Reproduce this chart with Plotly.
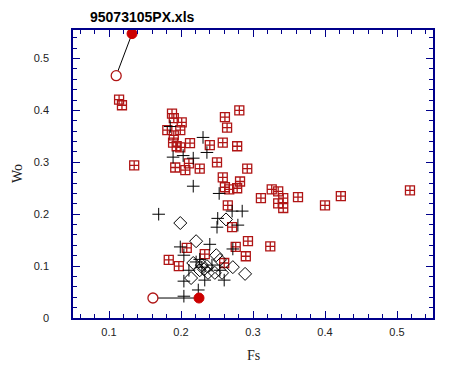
import plotly.graph_objects as go

# Red square-cross series
sq_x = [0.114, 0.118, 0.135, 0.1875, 0.190, 0.201, 0.181, 0.199, 0.190, 0.189, 0.194, 0.199,
        0.2125, 0.240, 0.258, 0.278, 0.261, 0.281, 0.264, 0.211, 0.250, 0.192, 0.206, 0.226,
        0.258, 0.292, 0.282, 0.261, 0.267, 0.278, 0.311, 0.326, 0.335, 0.342, 0.335, 0.342,
        0.3625, 0.400, 0.422, 0.518, 0.265, 0.271, 0.293, 0.276, 0.324, 0.290, 0.208, 0.233,
        0.183, 0.197, 0.260]
sq_y = [0.421, 0.410, 0.294, 0.394, 0.385, 0.377, 0.362, 0.362, 0.352, 0.338, 0.331, 0.329,
        0.337, 0.333, 0.338, 0.331, 0.387, 0.400, 0.367, 0.298, 0.300, 0.290, 0.285, 0.288,
        0.271, 0.288, 0.263, 0.252, 0.248, 0.250, 0.231, 0.248, 0.244, 0.231, 0.221, 0.212,
        0.233, 0.217, 0.235, 0.246, 0.217, 0.175, 0.148, 0.137, 0.138, 0.119, 0.135, 0.123,
        0.112, 0.100, 0.106]

# Black cross series
cr_x = [0.185, 0.2306, 0.236, 0.189, 0.203, 0.217, 0.217, 0.253, 0.169, 0.271, 0.285, 0.251,
        0.279, 0.250, 0.240, 0.199, 0.204, 0.272, 0.226, 0.243, 0.211, 0.254, 0.204, 0.233,
        0.260, 0.224, 0.204, 0.221, 0.229]
cr_y = [0.369, 0.348, 0.319, 0.310, 0.313, 0.308, 0.254, 0.240, 0.200, 0.206, 0.206, 0.192,
        0.179, 0.175, 0.142, 0.137, 0.121, 0.133, 0.113, 0.102, 0.092, 0.092, 0.071, 0.073,
        0.073, 0.054, 0.042, 0.108, 0.098]

# Open diamond series
dm_x = [0.199, 0.2625, 0.221, 0.249, 0.254, 0.217, 0.229, 0.232, 0.236, 0.2375, 0.247, 0.257,
        0.272, 0.289, 0.214, 0.226]
dm_y = [0.183, 0.190, 0.148, 0.121, 0.112, 0.106, 0.102, 0.094, 0.100, 0.087, 0.087, 0.087,
        0.098, 0.085, 0.077, 0.092]

# Paired end points (open -> filled)
top_x = [0.110, 0.132]
top_y = [0.467, 0.548]
bot_x = [0.161, 0.225]
bot_y = [0.0385, 0.0385]

x_ticks = [0.1, 0.2, 0.3, 0.4, 0.5]
x_labels = ["0.1", "0.2", "0.3", "0.4", "0.5"]
y_ticks = [0, 0.1, 0.2, 0.3, 0.4, 0.5]
y_labels = ["0", "0.1", "0.2", "0.3", "0.4", "0.5"]

RED = "#b01515"
NAVY = "#00008b"

fig = go.Figure()
fig.add_trace(go.Scatter(x=sq_x, y=sq_y, mode="markers",
                         marker=dict(symbol="square-cross-open", size=9, color=RED,
                                     line=dict(width=1.3, color=RED))))
fig.add_trace(go.Scatter(x=cr_x, y=cr_y, mode="markers",
                         marker=dict(symbol="cross-thin-open", size=9, color="black",
                                     line=dict(width=1, color="black"))))
fig.add_trace(go.Scatter(x=dm_x, y=dm_y, mode="markers",
                         marker=dict(symbol="diamond-open", size=10, color="black",
                                     line=dict(width=1, color="black"))))
for px, py in [(top_x, top_y), (bot_x, bot_y)]:
    fig.add_trace(go.Scatter(x=px, y=py, mode="lines",
                             line=dict(color="black", width=1)))
    fig.add_trace(go.Scatter(x=[px[0]], y=[py[0]], mode="markers",
                             marker=dict(symbol="circle", size=10, color="white",
                                         line=dict(width=1.3, color=RED))))
    fig.add_trace(go.Scatter(x=[px[1]], y=[py[1]], mode="markers",
                             marker=dict(symbol="circle", size=10, color="#cc0000",
                                         line=dict(width=1, color="#cc0000"))))

axis_common = dict(showline=True, linecolor=NAVY, linewidth=1.5, mirror="ticks",
                   ticks="inside", tickcolor=NAVY, ticklen=7, tickwidth=1,
                   showgrid=False, zeroline=False,
                   tickfont=dict(family="Liberation Sans, Arial", size=11, color="#222"))

fig.update_xaxes(range=[0.05, 0.55], tickvals=x_ticks, ticktext=x_labels,
                 minor=dict(dtick=0.02, tick0=0, ticks="inside", ticklen=4,
                            tickcolor=NAVY, showgrid=False),
                 ticklabelstandoff=3, **axis_common)
fig.update_yaxes(range=[0, 0.555], tickvals=y_ticks, ticktext=y_labels,
                 minor=dict(dtick=0.02, tick0=0, ticks="inside", ticklen=4,
                            tickcolor=NAVY, showgrid=False),
                 ticklabelstandoff=20, **axis_common)

fig.update_layout(
    width=461, height=368,
    margin=dict(l=65, r=36, t=22, b=58),
    paper_bgcolor="white", plot_bgcolor="white",
    showlegend=False,
    annotations=[
        dict(text="<b>95073105PX.xls</b>", xref="paper", yref="paper",
             x=(88 - 73) / 360, y=1.0, xanchor="left", yanchor="bottom", yshift=3,
             showarrow=False, font=dict(family="Liberation Sans, Arial", size=14, color="black")),
        dict(text="Fs", xref="paper", yref="paper", x=0.5, y=0, yanchor="top", yshift=-28,
             showarrow=False, font=dict(family="Liberation Serif, Times New Roman", size=14, color="#222")),
        dict(text="Wo", xref="paper", yref="paper", x=0, y=0.5, xanchor="center", xshift=-56,
             textangle=-90, showarrow=False,
             font=dict(family="Liberation Serif, Times New Roman", size=14, color="#222")),
    ],
)

fig.write_html("out.html")
